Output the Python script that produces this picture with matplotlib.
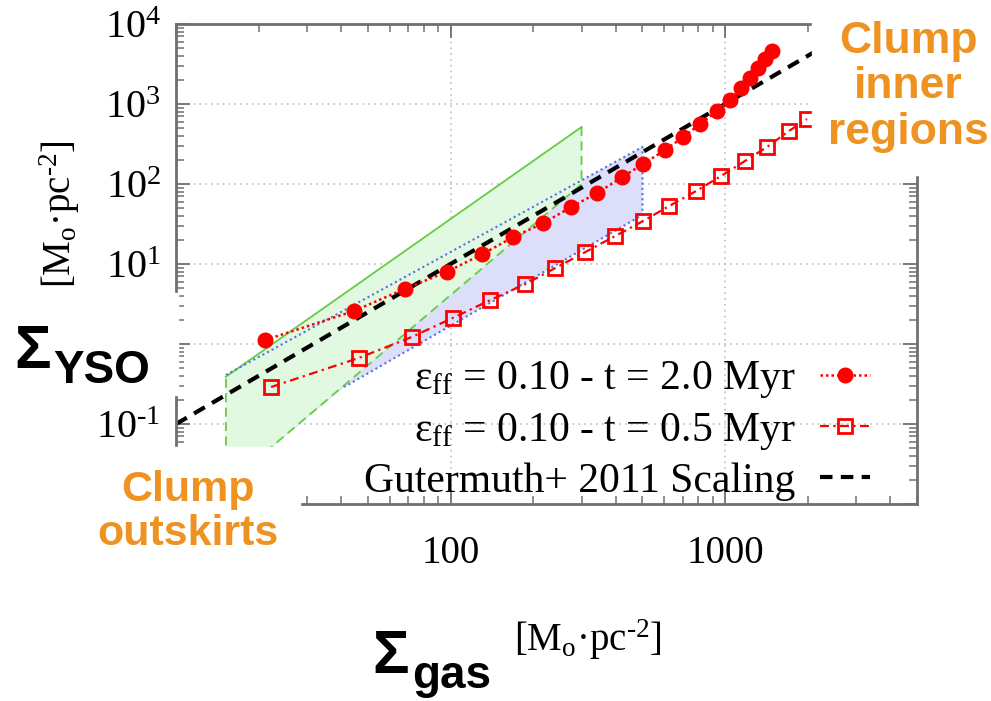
import matplotlib
matplotlib.use("Agg")
import matplotlib.pyplot as plt
from matplotlib.patches import Rectangle
from matplotlib.ticker import LogLocator, NullFormatter, FixedLocator, FixedFormatter

plt.rcParams['font.family'] = 'Liberation Serif'
plt.rcParams['mathtext.fontset'] = 'custom'
plt.rcParams['mathtext.rm'] = 'Liberation Serif'
plt.rcParams['mathtext.it'] = 'Liberation Serif:italic'
plt.rcParams['axes.unicode_minus'] = False

# model: eps_ff = 0.10, t = 2.0 Myr
gas_2myr = [21.1, 44.4, 68.0, 96.7, 130.7, 169.5, 217.9, 275.4, 342.3, 422, 503,
            605, 704, 811, 935, 1043, 1144, 1233, 1318, 1398, 1482]
yso_2myr = [1.12, 2.58, 4.87, 7.94, 13.3, 21.8, 32.5, 51.6, 77.2, 122, 178,
            266, 387, 562, 818, 1122, 1585, 2113, 2818, 3652, 4597]
# model: eps_ff = 0.10, t = 0.5 Myr
gas_05myr = [22.2, 46.3, 72.1, 101.7, 139.8, 187.4, 240.8, 309.7, 398, 503,
             626, 784, 967, 1182, 1421, 1709, 1987]
yso_05myr = [0.290, 0.668, 1.22, 2.11, 3.55, 5.62, 8.91, 14.1, 22.4, 34.5,
             53.1, 81.7, 126, 194, 290, 460, 649]
# Gutermuth+ 2011 scaling
gut_gas = [10, 3162]
gut_yso = [0.1, 10000]
# observed regions
green_gas = [15.2, 300, 300, 15.2]
green_yso = [0.39, 516, 100, 0.017]
blue_gas = [15.2, 500, 500, 41, 15.2]
blue_yso = [0.41, 290, 41, 0.29, 0.017]

x_ticks = [10, 100, 1000]
x_ticklabels = ['', '100', '1000']          # "10" is hidden in the figure
y_ticks = [0.01, 0.1, 1, 10, 100, 1000, 10000]
y_ticklabels = ['', r'$10^{\text{-1}}$', '', r'$10^{1}$', r'$10^{2}$', r'$10^{3}$', r'$10^{4}$']

labels = [r'ε$_{\rm ff}$ = 0.10 - t = 2.0 Myr',
          r'ε$_{\rm ff}$ = 0.10 - t = 0.5 Myr',
          'Gutermuth+ 2011 Scaling']
unit = r'[M$_{\rm o}$·pc$^{\text{-2}}$]'

W, H = 991, 701
fig = plt.figure(figsize=(W / 100, H / 100), dpi=100)
ax = fig.add_axes([176 / W, 1 - 504 / H, (917 - 176) / W, (504 - 24) / H])
ax.set_xscale('log')
ax.set_yscale('log')
ax.set_xlim(10, 5000)
ax.set_ylim(0.01, 10000)

ax.grid(True, which='major', color='#bdbdbd', ls=(0, (1, 2.5)), lw=1.2, zorder=0.5)
ax.set_axisbelow(True)

ax.fill(blue_gas, blue_yso, color='#dcdefa', lw=0, zorder=1)
ax.fill(green_gas, green_yso, color='#e0f9e0', lw=0, zorder=1.1)
ax.plot(green_gas[:2], green_yso[:2], color='#66cc44', lw=1.3, zorder=1.5)
ax.plot(green_gas[1:] + green_gas[:1], green_yso[1:] + green_yso[:1],
        color='#66cc44', lw=1.3, ls=(0, (5, 3)), zorder=1.5)
ax.plot(blue_gas[:4], blue_yso[:4], color='#5570e0', lw=1.5, ls=(0, (1, 1.5)), zorder=1.5)

l_gut, = ax.plot(gut_gas, gut_yso, color='black', lw=3, ls=(0, (3, 2)), zorder=2)
l_2, = ax.plot(gas_2myr, yso_2myr, color='red', lw=1.8, ls=(0, (1, 1.2)),
               marker='o', ms=10.5, mfc='red', mec='red', zorder=3)
l_05, = ax.plot(gas_05myr, yso_05myr, color='red', lw=1.6, ls=(0, (4, 2, 1, 2)),
                marker='s', ms=10, mfc='none', mec='red', mew=2, zorder=3)

ax.xaxis.set_major_locator(FixedLocator(x_ticks))
ax.xaxis.set_major_formatter(FixedFormatter(x_ticklabels))
ax.xaxis.set_minor_locator(LogLocator(base=10, subs=range(2, 10), numticks=20))
ax.xaxis.set_minor_formatter(NullFormatter())
ax.yaxis.set_major_locator(FixedLocator(y_ticks))
ax.yaxis.set_major_formatter(FixedFormatter(y_ticklabels))
ax.yaxis.set_minor_locator(LogLocator(base=10, subs=range(2, 10), numticks=20))
ax.yaxis.set_minor_formatter(NullFormatter())

ax.tick_params(which='both', direction='in', top=True, right=True, color='#707070')
ax.tick_params(which='major', length=10, width=1.3)
ax.tick_params(which='minor', length=6, width=1.1)
ax.tick_params(axis='x', pad=22, labelsize=28)
ax.tick_params(axis='y', pad=11, labelsize=29)
for s in ax.spines.values():
    s.set_color('#707070')
    s.set_linewidth(2)

leg = ax.legend([l_2, l_05, l_gut], labels, loc='lower right',
                bbox_to_anchor=(0.937, 0.007), frameon=False, markerfirst=False,
                fontsize=30, handlelength=1.2, handletextpad=0.6,
                labelspacing=0.25, borderpad=0, borderaxespad=0, numpoints=1)
leg.set_zorder(5)

# white cover boxes and annotations
for x0, y0, x1, y1 in [(812, 0, 991, 175), (0, 293, 178, 395), (0, 447, 300, 701)]:
    fig.add_artist(Rectangle((x0 / W, 1 - y1 / H), (x1 - x0) / W, (y1 - y0) / H,
                             transform=fig.transFigure, color='white', zorder=10))

fig.text(60 / W, 1 - 214 / H, unit, rotation=90, ha='center', va='center', fontsize=28)
fig.text(588 / W, 1 - 640 / H, unit, ha='center', va='center', fontsize=28)

orange = '#ee9322'
fig.text(908 / W, 1 - 87 / H, 'Clump\ninner\nregions', ha='center', va='center',
         fontsize=32, fontweight='bold', color=orange, family='Liberation Sans',
         linespacing=1.15, zorder=11)
fig.text(188 / W, 1 - 512 / H, 'Clump\noutskirts', ha='center', va='center',
         fontsize=31, fontweight='bold', color=orange, family='Liberation Sans',
         linespacing=1.12, zorder=11)

fig.text(14 / W, 1 - 368 / H, 'Σ', fontsize=44, fontweight='bold',
         family='Liberation Sans', ha='left', va='baseline', zorder=11)
fig.text(53 / W, 1 - 383 / H, 'YSO', fontsize=33, fontweight='bold',
         family='Liberation Sans', ha='left', va='baseline', zorder=11)
fig.text(372 / W, 1 - 673 / H, 'Σ', fontsize=44, fontweight='bold',
         family='Liberation Sans', ha='left', va='baseline', zorder=11)
fig.text(412 / W, 1 - 688 / H, 'gas', fontsize=33, fontweight='bold',
         family='Liberation Sans', ha='left', va='baseline', zorder=11)

fig.savefig('out.png', dpi=100)
